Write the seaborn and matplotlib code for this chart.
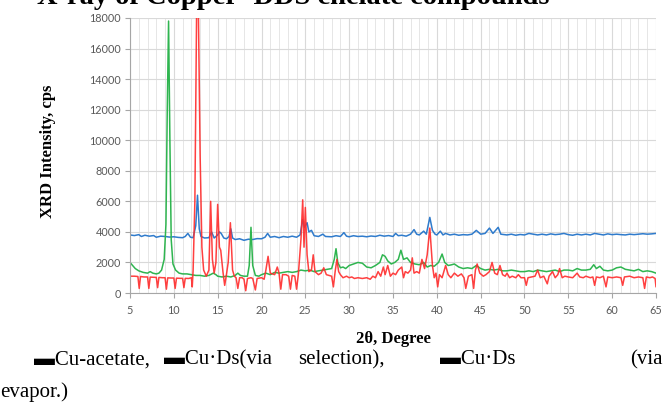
import matplotlib
matplotlib.use("Agg")
import matplotlib.pyplot as plt
import seaborn as sns
import pandas as pd
from matplotlib.ticker import MultipleLocator

# ---------------- data ----------------
acetate_x = [5.0, 5.5, 6.0, 6.3, 6.7, 7.2, 7.7, 8.0, 8.5, 9.0, 9.5, 10.0, 10.5, 11.0, 11.3, 11.6, 11.9,
             12.2, 12.5, 12.7, 12.9, 13.1, 13.5, 14.0, 14.3, 14.6, 15.0, 15.2, 15.4, 15.7, 16.0, 16.3,
             16.5, 16.7, 17.0, 17.5, 18.0, 18.5, 19.0, 19.5, 20.0, 20.4, 20.7, 21.0, 21.5, 22.0, 22.5,
             23.0, 23.5, 24.0, 24.4, 24.7, 24.9, 25.2, 25.4, 25.7, 26.0, 26.5, 27.0, 27.3, 28.0, 28.5,
             29.0, 29.4, 29.7, 30.0, 30.5, 31.0, 31.5, 32.0, 32.5, 33.0, 33.5, 34.0, 34.5, 35.0, 35.3,
             35.6, 36.0, 36.5, 37.0, 37.4, 37.7, 38.0, 38.5, 38.8, 39.2, 39.5, 39.8, 40.0, 40.4, 40.7,
             41.0, 41.5, 42.0, 42.5, 43.0, 43.5, 44.0, 44.5, 45.0, 45.5, 46.0, 46.4, 47.0, 47.3, 48.0,
             48.5, 49.0, 49.5, 50.0, 50.5, 51.0, 51.5, 52.0, 52.5, 53.0, 53.5, 54.0, 54.5, 55.0, 55.5,
             56.0, 56.5, 57.0, 57.5, 58.0, 58.5, 59.0, 59.5, 60.0, 60.5, 61.0, 61.5, 62.0, 62.5, 63.0,
             63.5, 64.0, 64.5, 65.0]
acetate_y = [3800, 3760, 3820, 3700, 3780, 3720, 3760, 3650, 3720, 3700, 3660, 3680, 3640, 3620, 3700, 3900, 3650,
             3620, 4400, 6400, 4200, 3700, 3600, 3620, 4000, 3600, 3800, 4000, 3900, 3600, 3550, 3700,
             4200, 3600, 3500, 3550, 3450, 3520, 3500, 3560, 3550, 3650, 3900, 3650, 3700, 3620, 3700,
             3650, 3720, 3650, 3800, 4800, 4300, 4600, 4000, 4100, 3750, 3700, 3850, 3700, 3680, 3750,
             3700, 3950, 3720, 3680, 3750, 3700, 3720, 3680, 3730, 3700, 3780, 3720, 3760, 3700, 3900,
             3750, 3780, 3720, 3850, 4150, 3850, 3800, 4050, 3850, 4950, 4100, 3850, 3800, 4050, 3800,
             3900, 3800, 3850, 3780, 3820, 3800, 3850, 4100, 3850, 3900, 4250, 3900, 4300, 3850, 3800,
             3850, 3780, 3830, 3800, 3900, 3850, 3800, 3850, 3800, 3870, 3820, 3850, 3900, 3820, 3780,
             3850, 3800, 3850, 3800, 3900, 3850, 3800, 3870, 3820, 3850, 3820, 3800, 3850, 3820, 3850,
             3880, 3850, 3870, 3900]

evapor_x = [5.0, 5.3, 5.6, 6.0, 6.5, 7.0, 7.3, 7.6, 8.0, 8.3, 8.6, 8.9, 9.1, 9.25, 9.4, 9.55, 9.7, 9.9,
            10.2, 10.6, 11.0, 11.5, 12.0, 12.5, 13.0, 13.5, 14.0, 14.5, 14.8, 15.0, 15.5, 16.0, 16.5,
            17.0, 17.3, 17.6, 18.0, 18.4, 18.6, 18.8, 19.0, 19.3, 19.7, 20.0, 20.5, 21.0, 21.5, 22.0,
            22.5, 23.0, 23.5, 24.0, 24.5, 25.0, 25.5, 26.0, 26.5, 27.0, 27.5, 28.0, 28.3, 28.5, 28.7,
            29.0, 29.3, 29.6, 30.0, 30.5, 31.0, 31.5, 32.0, 32.5, 33.0, 33.5, 33.8, 34.1, 34.4, 34.8,
            35.2, 35.6, 35.9, 36.2, 36.6, 37.0, 37.5, 38.0, 38.5, 38.9, 39.3, 39.7, 40.2, 40.6, 40.9,
            41.3, 41.7, 42.0, 42.5, 43.0, 43.5, 44.0, 44.5, 45.0, 45.5, 46.0, 46.5, 47.0, 47.5, 48.0,
            48.5, 49.0, 49.5, 50.0, 50.5, 51.0, 51.5, 52.0, 52.5, 53.0, 53.5, 54.0, 54.5, 55.0, 55.5,
            56.0, 56.5, 57.0, 57.5, 57.9, 58.2, 58.6, 59.0, 59.5, 60.0, 60.5, 61.0, 61.5, 62.0, 62.5,
            63.0, 63.5, 64.0, 64.5, 65.0]
evapor_y = [2000, 1800, 1600, 1450, 1350, 1300, 1400, 1300, 1250, 1300, 1500, 2200, 4500, 12000, 17800, 10000, 3500, 1900,
            1500, 1300, 1250, 1250, 1200, 1150, 1150, 1100, 1150, 1300, 1200, 1100, 1050, 1100, 1050,
            1150, 1300, 1150, 1100, 1100, 1800, 4300, 1800, 1150, 1100, 1200, 1300, 1200, 1350, 1300,
            1350, 1400, 1350, 1400, 1500, 1450, 1500, 1400, 1450, 1500, 1550, 1600, 2200, 2900, 2000,
            1650, 1700, 1600, 1800, 1900, 2000, 1950, 1700, 1650, 1800, 2000, 2500, 2400, 2100, 1900,
            2000, 2200, 2800, 2200, 2300, 2000, 1900, 1850, 2000, 1700, 1800, 1750, 2000, 2550, 2000,
            1800, 1850, 1900, 1700, 1600, 1650, 1600, 1800, 1600, 1500, 1550, 1500, 1550, 1450, 1450,
            1500, 1450, 1400, 1400, 1450, 1400, 1500, 1450, 1400, 1450, 1500, 1400, 1500, 1500, 1450,
            1600, 1500, 1500, 1550, 1850, 1600, 1750, 1500, 1450, 1500, 1650, 1700, 1550, 1500, 1450,
            1550, 1400, 1450, 1400, 1300]

select_x = [5.0, 5.5, 5.9, 6.05, 6.2, 6.6, 7.0, 7.15, 7.3, 7.7, 8.0, 8.15, 8.3, 8.7, 9.0, 9.15, 9.3, 9.7,
            10.0, 10.15, 10.3, 10.7, 11.0, 11.15, 11.3, 11.7, 12.0, 12.1, 12.2, 12.4, 12.6, 12.8, 13.0,
            13.2, 13.4, 13.7, 14.0, 14.2, 14.4, 14.6, 14.8, 15.0, 15.2, 15.35, 15.6, 15.8, 16.0, 16.2,
            16.45, 16.7, 16.9, 17.1, 17.3, 17.5, 17.8, 18.0, 18.2, 18.4, 18.8, 19.0, 19.3, 19.5, 20.0,
            20.3, 20.5, 20.75, 21.0, 21.5, 21.8, 22.0, 22.2, 22.4, 22.8, 23.1, 23.3, 23.5, 23.8, 24.0,
            24.2, 24.5, 24.7, 24.85, 25.0, 25.2, 25.4, 25.7, 25.9, 26.1, 26.5, 26.8, 27.1, 27.4, 27.7,
            28.0, 28.2, 28.4, 28.6, 28.8, 29.0, 29.3, 29.7, 30.0, 30.3, 30.6, 31.0, 31.5, 32.0, 32.4,
            32.7, 33.0, 33.3, 33.6, 33.9, 34.1, 34.4, 34.7, 35.0, 35.3, 35.6, 36.0, 36.2, 36.4, 36.7,
            37.0, 37.2, 37.4, 37.7, 38.0, 38.3, 38.6, 38.9, 39.2, 39.5, 39.7, 39.9, 40.1, 40.3, 40.6,
            41.0, 41.3, 41.6, 42.0, 42.4, 42.8, 43.1, 43.3, 43.6, 44.0, 44.2, 44.4, 44.6, 44.9, 45.3,
            45.6, 46.0, 46.3, 46.6, 46.9, 47.2, 47.5, 47.8, 48.0, 48.3, 48.6, 49.0, 49.3, 49.6, 50.0,
            50.2, 50.4, 50.8, 51.2, 51.5, 51.8, 52.2, 52.6, 52.8, 53.2, 53.5, 53.8, 54.0, 54.3, 54.6,
            55.0, 55.5, 56.0, 56.3, 56.7, 57.0, 57.5, 57.8, 58.0, 58.2, 58.6, 59.0, 59.3, 59.5, 60.0,
            60.5, 61.0, 61.2, 61.4, 62.0, 62.5, 63.0, 63.5, 63.7, 63.9, 64.3, 64.6, 64.9, 65.0]
select_y = [1100, 1100, 1080, 300, 1080, 1050, 1050, 300, 1040, 1030, 1020, 350, 1020, 1000, 1000, 250, 990, 980,
            980, 300, 970, 960, 960, 350, 960, 950, 1000, 400, 1500, 6000, 18500, 18500, 9000,
            3000, 1500, 1100, 1500, 6000, 2200, 1300, 2000, 5800, 3000, 2800, 1400, 500, 1200, 2000,
            4600, 1500, 1100, 1000, 300, 1000, 1000, 900, 150, 950, 1000, 950, 200, 950, 1000,
            900, 1500, 2400, 1300, 1200, 1700, 1300, 250, 1200, 1200, 1100, 250, 1150, 1100, 250,
            1200, 3500, 6100, 3000, 5600, 2500, 1400, 1500, 2500, 1400, 1200, 1300, 1650, 1200, 1150,
            1100, 400, 1400, 2200, 1400, 1200, 1000, 1100, 1000, 1050, 950, 1000, 950, 1000, 900,
            1100, 1000, 1400, 1100, 1700, 1200, 1800, 1100, 1300, 1200, 1500, 1700, 1000, 1400, 1300,
            1500, 2300, 1300, 1400, 1300, 2200, 1600, 2500, 4250, 1800, 1000, 1300, 400, 1200, 1000,
            1800, 1200, 1000, 1300, 1100, 1250, 1000, 300, 1100, 1200, 300, 1500, 1900, 1300, 1100,
            1200, 1400, 2000, 1300, 1200, 1800, 1200, 1100, 1300, 1000, 1100, 1000, 1200, 1000, 1000,
            500, 1000, 1050, 1100, 1500, 1000, 1100, 600, 1100, 1400, 1000, 1200, 1600, 1000, 1100,
            1050, 1000, 1300, 1050, 1000, 1100, 1000, 1050, 500, 1050, 1000, 1100, 400, 1050, 1000,
            1050, 1000, 500, 1050, 1100, 1000, 1050, 1000, 300, 1050, 1000, 1050, 950, 400]

series_names = ["Cu-acetate", "Cu·Ds(via selection)", "Cu·Ds (via evapor.)"]
series_colors = ["#2f7bcc", "#ff2b2b", "#2fb550"]

y_ticks = [0, 2000, 4000, 6000, 8000, 10000, 12000, 14000, 16000, 18000]
x_ticks = [5, 10, 15, 20, 25, 30, 35, 40, 45, 50, 55, 60, 65]

title_text = "X-ray of Copper- DDS chelate compounds"
y_label = "XRD Intensity, cps"
x_label = "2θ, Degree"
legend_parts = ["▬Cu-acetate,", "▬Cu·Ds(via", "selection),", "▬Cu·Ds", "(via"]
legend_tail = "evapor.)"

# ---------------- figure ----------------
sns.set_theme(style="whitegrid")
plt.rcParams["font.family"] = ["Liberation Serif", "DejaVu Sans"]

df = pd.concat([
    pd.DataFrame({"x": acetate_x, "y": acetate_y, "s": series_names[0]}),
    pd.DataFrame({"x": evapor_x, "y": evapor_y, "s": series_names[2]}),
    pd.DataFrame({"x": select_x, "y": select_y, "s": series_names[1]}),
], ignore_index=True)

fig = plt.figure(figsize=(6.64, 4.09), dpi=100)
ax = fig.add_axes([130 / 664, 1 - 293 / 409, 526 / 664, 275 / 409])
ax.set_facecolor("white")

sns.lineplot(data=df, x="x", y="y", hue="s", hue_order=[series_names[0], series_names[2], series_names[1]],
             palette={series_names[0]: series_colors[0], series_names[1]: series_colors[1],
                      series_names[2]: series_colors[2]},
             estimator=None, sort=False, linewidth=1.1, legend=False, ax=ax)
for ln, a in zip(ax.get_lines(), [1.0, 1.0, 0.9]):
    ln.set_alpha(a)

ax.set_xlim(5, 65)
ax.set_ylim(0, 18000)
ax.set_xticks(x_ticks)
ax.set_yticks(y_ticks)
ax.xaxis.set_minor_locator(MultipleLocator(1))
ax.grid(True, which="major", color="#d9d9d9", linewidth=0.8)
ax.grid(True, which="minor", axis="x", color="#e6e6e6", linewidth=0.7)
ax.set_axisbelow(True)
for side in ["top", "right"]:
    ax.spines[side].set_visible(False)
for side in ["left", "bottom"]:
    ax.spines[side].set_visible(True)
    ax.spines[side].set_color("#a6a6a6")
    ax.spines[side].set_linewidth(0.8)
ax.tick_params(axis="both", which="major", length=3.5, width=0.8, color="#a6a6a6",
               labelsize=7.8, labelcolor="#595959", pad=3)
ax.tick_params(axis="both", which="minor", length=0)
ax.tick_params(axis="x", which="major", direction="out", bottom=True, pad=5)
ax.tick_params(axis="y", which="major", direction="out", left=True)
for lab in ax.get_xticklabels() + ax.get_yticklabels():
    lab.set_family("Lato")
ax.set_xlabel("")
ax.set_ylabel("")

fig.text(393 / 664, 1 - 339 / 409, x_label, ha="center", va="center", fontsize=12,
         fontweight="bold", color="black")
fig.text(48 / 664, 1 - 151 / 409, y_label, ha="center", va="center", rotation=90,
         fontsize=12, fontweight="bold", color="black")
fig.text(37 / 664, 1 - 4 / 409, title_text, ha="left", va="baseline", fontsize=20.5,
         fontweight="bold", color="black")

legend_x = [34, 164, 298, 440, 663]
for i, (t, px) in enumerate(zip(legend_parts, legend_x)):
    fig.text(px / 664, 1 - 360 / 409, t, ha="right" if i == len(legend_parts) - 1 else "left",
             va="center", fontsize=15, color="black")
fig.text(0 / 664, 1 - 392 / 409, legend_tail, ha="left", va="center", fontsize=15, color="black")

fig.savefig("out.png", dpi=100)
